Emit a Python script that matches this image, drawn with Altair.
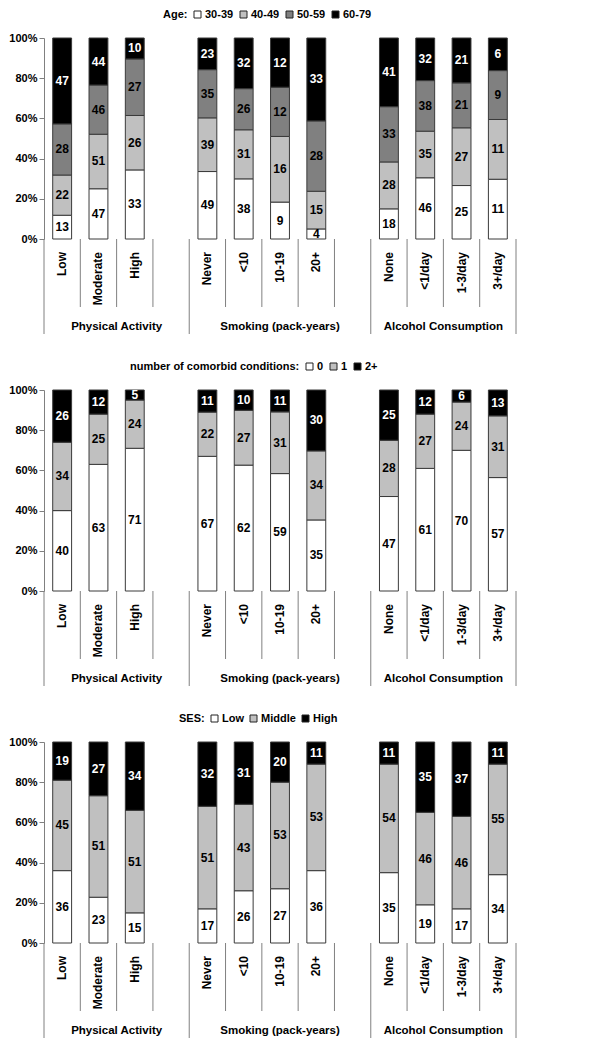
import altair as alt
import pandas as pd

# ---------------- data ----------------
slots = ["Low", "Moderate", "High", " ", "Never", "<10", "10-19", "20+", "  ",
         "None", "<1/day", "1-3/day", "3+/day"]
groups = ["Physical Activity", "Smoking (pack-years)", "Alcohol Consumption"]
group_members = [["Low", "Moderate", "High"],
                 ["Never", "<10", "10-19", "20+"],
                 ["None", "<1/day", "1-3/day", "3+/day"]]
categories = [c for g in group_members for c in g]

age_series = ["30-39", "40-49", "50-59", "60-79"]
age_30_39 = [13, 47, 33, 49, 38, 9, 4, 18, 46, 25, 11]
age_40_49 = [22, 51, 26, 39, 31, 16, 15, 28, 35, 27, 11]
age_50_59 = [28, 46, 27, 35, 26, 12, 28, 33, 38, 21, 9]
age_60_79 = [47, 44, 10, 23, 32, 12, 33, 41, 32, 21, 6]

comorbid_series = ["0", "1", "2+"]
comorbid_0 = [40, 63, 71, 67, 62, 59, 35, 47, 61, 70, 57]
comorbid_1 = [34, 25, 24, 22, 27, 31, 34, 28, 27, 24, 31]
comorbid_2p = [26, 12, 5, 11, 10, 11, 30, 25, 12, 6, 13]

ses_series = ["Low", "Middle", "High"]
ses_low = [36, 23, 15, 17, 26, 27, 36, 35, 19, 17, 34]
ses_middle = [45, 51, 51, 51, 43, 53, 53, 54, 46, 46, 55]
ses_high = [19, 27, 34, 32, 31, 20, 11, 11, 35, 37, 11]

# ---------------- style ----------------
FONT_H = "Liberation Sans, Arial, sans-serif"
FONT_V = "Liberation Sans, Arial, sans-serif"
FS = 11
W, H = 472, 201
GRAY = "#808080"
BAR_STROKE = "#3a3a3a"

n_slots = len(slots)
slot_index = {s: i for i, s in enumerate(slots)}
group_start = [slot_index[m[0]] for m in group_members]
group_end = group_start[1:] + [n_slots]
group_center = [(a + b) / 2 for a, b in zip(group_start, group_end)]

long_bounds = pd.DataFrame({"pos": group_start + [n_slots]})
short_bounds = pd.DataFrame({"pos": [i for i in range(1, n_slots) if i not in group_start]})
cat_df = pd.DataFrame({"label": categories, "pos": [slot_index[c] + 0.5 for c in categories]})
grp_df = pd.DataFrame({"label": groups, "pos": group_center})


def lab_x():
    return alt.X("pos:Q", scale=alt.Scale(domain=[0, n_slots], nice=False, zero=False), axis=None)


def panel(title, series_names, series_values, colors, dark_series, legend_x):
    rows = []
    for k, (name, vals) in enumerate(zip(series_names, series_values)):
        for cat, v in zip(categories, vals):
            rows.append({"slot": cat, "series": name, "value": v, "order": k})
    df = pd.DataFrame(rows)

    base = alt.Chart(df).transform_stack(
        stack="value", as_=["y0", "y1"], groupby=["slot"],
        sort=[alt.SortField("order", order="ascending")], offset="normalize",
    ).transform_calculate(ymid="(datum.y0 + datum.y1) / 2")

    xscale = alt.Scale(domain=slots, paddingInner=0, paddingOuter=0)
    yscale = alt.Scale(domain=[0, 1], nice=False)
    yaxis = alt.Axis(format="%", values=[0, 0.2, 0.4, 0.6, 0.8, 1], grid=False, title=None,
                     tickSize=5, tickColor=GRAY, domainColor=GRAY, labelPadding=2,
                     labelFont=FONT_H, labelFontSize=FS, labelFontWeight="bold", labelColor="black")

    bars = base.mark_bar(width=alt.RelativeBandSize(0.52), stroke=BAR_STROKE, strokeWidth=1).encode(
        x=alt.X("slot:N", scale=xscale,
                axis=alt.Axis(labels=False, ticks=False, title=None, domainColor=GRAY)),
        y=alt.Y("y1:Q", scale=yscale, axis=yaxis),
        y2="y0:Q",
        color=alt.Color("series:N", scale=alt.Scale(domain=series_names, range=colors),
                        legend=alt.Legend(
                            title=title, orient="none", legendX=legend_x, legendY=-29,
                            direction="horizontal", titleOrient="left", titleLimit=500,
                            titleFont=FONT_H, titleFontSize=FS, titleFontWeight="bold",
                            titleColor="black", titlePadding=4,
                            labelFont=FONT_H, labelFontSize=FS, labelFontWeight="bold",
                            labelColor="black", labelOffset=2, columnPadding=4,
                            symbolType="square", symbolSize=49,
                            symbolStrokeColor="#222222", symbolStrokeWidth=1)),
    )
    texts = base.mark_text(font=FONT_H, fontSize=12, fontWeight="bold", baseline="middle").encode(
        x=alt.X("slot:N", scale=xscale, axis=None),
        y=alt.Y("ymid:Q", scale=yscale, axis=yaxis),
        text="value:Q",
        color=alt.condition(alt.datum.series == dark_series, alt.value("white"), alt.value("black")),
    )
    main = alt.layer(bars, texts)

    short_rules = alt.Chart(short_bounds).mark_rule(color=GRAY).encode(
        x=lab_x(), y=alt.value(H), y2=alt.value(H + 68))
    long_rules = alt.Chart(long_bounds).mark_rule(color=GRAY).encode(
        x=lab_x(), y=alt.value(H), y2=alt.value(H + 95))
    cat_text = alt.Chart(cat_df).mark_text(
        angle=270, align="right", baseline="middle", font=FONT_V, fontSize=12,
        fontWeight="bold", color="black").encode(
        x=lab_x(), y=alt.value(H + 13), text="label:N")
    grp_text = alt.Chart(grp_df).mark_text(
        align="center", baseline="middle", font=FONT_H, fontSize=FS + 0.5,
        fontWeight="bold", color="black").encode(
        x=lab_x(), y=alt.value(H + 88), text="label:N")
    below = alt.layer(short_rules, long_rules, cat_text, grp_text)

    return alt.layer(main, below).resolve_scale(x="independent").properties(width=W, height=H)


p1 = panel("Age:", age_series, [age_30_39, age_40_49, age_50_59, age_60_79],
           ["white", "#c0c0c0", "#808080", "black"], "60-79", 119)
p2 = panel("number of comorbid conditions:", comorbid_series, [comorbid_0, comorbid_1, comorbid_2p],
           ["white", "#c0c0c0", "black"], "2+", 86)
p3 = panel("SES:", ses_series, [ses_low, ses_middle, ses_high],
           ["white", "#c0c0c0", "black"], "High", 135)

chart = alt.vconcat(p1, p2, p3, spacing=26).resolve_scale(
    color="independent").resolve_legend(color="independent").configure_view(
    stroke=None).properties(padding={"left": 0, "top": 1, "right": 5, "bottom": 5})

chart.save("out.html", embed_options={"renderer": "svg", "actions": False})
